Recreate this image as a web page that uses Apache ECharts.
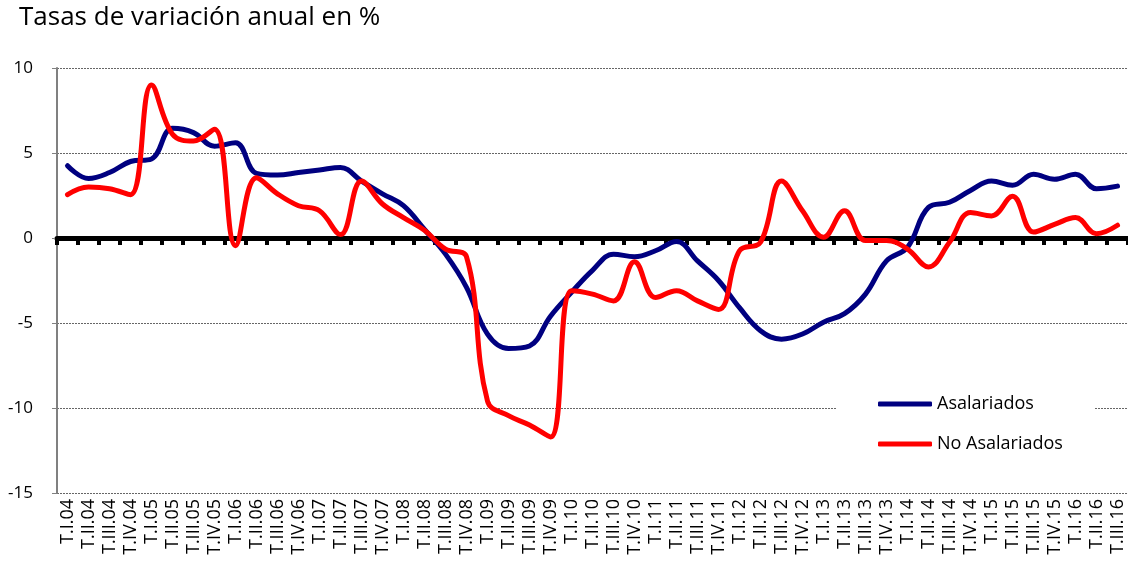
<!DOCTYPE html>
<html>
<head>
<meta charset="utf-8">
<script src="https://cdn.jsdelivr.net/npm/echarts@6/dist/echarts.min.js"></script>
<style>
html,body{margin:0;padding:0;background:#fff;}
#chart{width:1128px;height:564px;}
</style>
</head>
<body>
<div id="chart"></div>
<script>
var titleText = 'Tasas de variación anual en %';
var categories = [
 'T.I.04','T.II.04','T.III.04','T.IV.04',
 'T.I.05','T.II.05','T.III.05','T.IV.05',
 'T.I.06','T.II.06','T.III.06','T.IV.06',
 'T.I.07','T.II.07','T.III.07','T.IV.07',
 'T.I.08','T.II.08','T.III.08','T.IV.08',
 'T.I.09','T.II.09','T.III.09','T.IV.09',
 'T.I.10','T.II.10','T.III.10','T.IV.10',
 'T.I.11','T.II.11','T.III.11','T.IV.11',
 'T.I.12','T.II.12','T.III.12','T.IV.12',
 'T.I.13','T.II.13','T.III.13','T.IV.13',
 'T.I.14','T.II.14','T.III.14','T.IV.14',
 'T.I.15','T.II.15','T.III.15','T.IV.15',
 'T.I.16','T.II.16','T.III.16'
];
var seriesNames = ['Asalariados', 'No Asalariados'];
var asalariados = [4.25, 3.5, 3.85, 4.5, 4.65, 6.45, 6.2, 5.4, 5.6, 3.8, 3.7, 3.85, 4.0, 4.15, 3.35, 2.6, 1.9, 0.5, -0.95, -2.9, -5.65, -6.5, -6.35, -4.6, -3.2, -1.9, -0.95, -1.1, -0.75, -0.2, -1.35, -2.5, -4.1, -5.45, -5.95, -5.65, -4.95, -4.45, -3.3, -1.35, -0.55, 1.8, 2.1, 2.8, 3.35, 3.1, 3.75, 3.45, 3.75, 2.9, 3.05];
var noAsalariados = [2.55, 3.0, 2.9, 2.55, 9.0, 6.1, 5.7, 6.4, -0.45, 3.55, 2.6, 1.9, 1.6, 0.2, 3.35, 2.0, 1.2, 0.45, -0.65, -1.1, -9.6, -10.45, -11.0, -11.7, -3.1, -3.3, -3.7, -1.4, -3.5, -3.1, -3.7, -4.2, -0.75, -0.25, 3.35, 1.6, 0.05, 1.6, -0.15, -0.15, -0.65, -1.7, -0.25, 1.5, 1.3, 2.45, 0.35, 0.8, 1.2, 0.25, 0.75];
var yMin = -15, yMax = 10, yStep = 5;

var FONT = 'Open Sans';
var chart = echarts.init(document.getElementById('chart'), null, {renderer: 'canvas'});
chart.setOption({
  animation: false,
  backgroundColor: '#fff',
  title: {
    text: titleText, left: 19, top: 5, padding: 0,
    textStyle: {fontFamily: FONT, fontSize: 26, fontWeight: 'normal', color: '#000'}
  },
  legend: {
    orient: 'vertical', left: 836, top: 382,
    padding: [10, 32, 10, 42],
    backgroundColor: '#fff',
    icon: 'roundRect',
    itemWidth: 54, itemHeight: 5, itemGap: 16,
    data: seriesNames,
    textStyle: {fontFamily: FONT, fontSize: 18, color: '#000', lineHeight: 24}
  },
  grid: {left: 57, right: -1, top: 68, bottom: 71, containLabel: false},
  xAxis: [
    {
      type: 'category', data: categories, boundaryGap: true,
      position: 'bottom',
      axisLine: {show: false, onZero: false},
      axisTick: {show: false},
      splitLine: {show: false},
      axisLabel: {interval: 0, rotate: 90, margin: 6, fontFamily: FONT, fontSize: 18, color: '#000'}
    },
    {
      type: 'category', data: categories, boundaryGap: true,
      position: 'bottom',
      axisLine: {show: true, onZero: true, lineStyle: {color: '#000', width: 5}},
      axisTick: {show: true, interval: 0, inside: false, length: 7, lineStyle: {color: '#000', width: 4}},
      axisLabel: {show: false},
      splitLine: {show: false}
    }
  ],
  yAxis: {
    type: 'value', min: yMin, max: yMax, interval: yStep,
    axisLine: {show: true, lineStyle: {color: '#808080', width: 2}},
    axisTick: {show: true, inside: false, length: 5, lineStyle: {color: '#808080', width: 1}},
    axisLabel: {margin: 24, fontFamily: FONT, fontSize: 17, color: '#000'},
    splitLine: {show: true, lineStyle: {color: '#666', width: 1, type: [2, 1]}}
  },
  series: [
    {
      name: seriesNames[0], type: 'line', data: asalariados, xAxisIndex: 0,
      smooth: 0.4, symbol: 'none', z: 3,
      lineStyle: {color: '#000080', width: 5, cap: 'round', join: 'round'},
      itemStyle: {color: '#000080'}
    },
    {
      name: seriesNames[1], type: 'line', data: noAsalariados, xAxisIndex: 0,
      smooth: 0.4, symbol: 'none', z: 4,
      lineStyle: {color: '#ff0000', width: 5, cap: 'round', join: 'round'},
      itemStyle: {color: '#ff0000'}
    }
  ]
});
</script>
</body>
</html>
